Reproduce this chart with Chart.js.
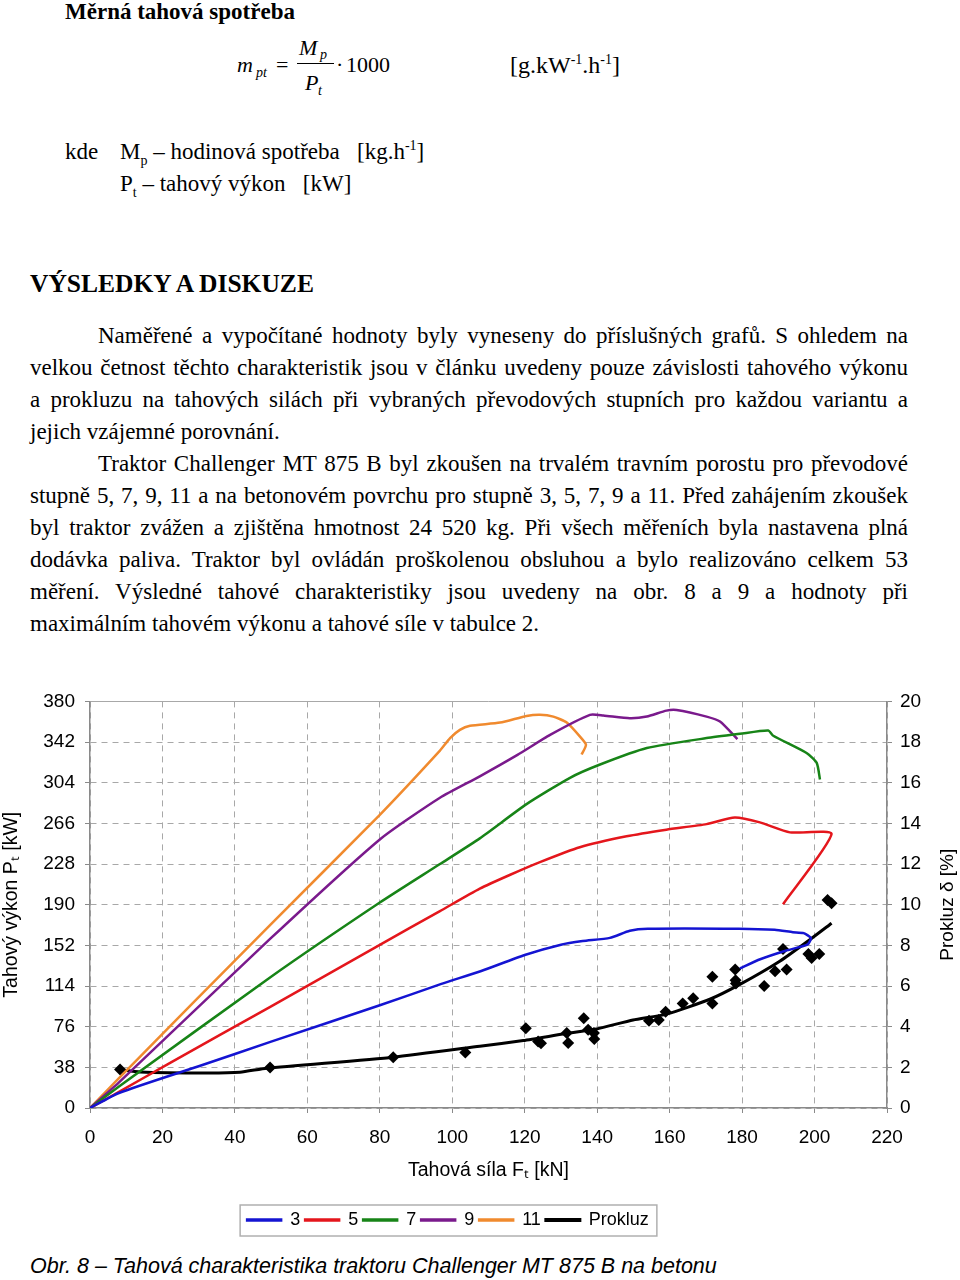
<!DOCTYPE html>
<html lang="cs">
<head>
<meta charset="utf-8">
<title>Tahová charakteristika traktoru Challenger MT 875 B na betonu</title>
<script src="https://cdn.jsdelivr.net/npm/chart.js@4.4.0/dist/chart.umd.min.js"></script>
<style>
  html, body { margin: 0; padding: 0; background: #fff; }
  body { width: 960px; height: 1280px; position: relative; overflow: hidden;
         font-family: "Liberation Serif", "Times New Roman", serif; color: #000; }
  .t { position: absolute; white-space: nowrap; font-size: 23px; line-height: 32px; }
  .f { position: absolute; white-space: nowrap; line-height: 1; }
  .i { font-style: italic; }
  .j { position: absolute; left: 30px; width: 878px; font-size: 23px; line-height: 32px;
       text-align: justify; text-align-last: justify; }
  .ind { left: 98px; width: 810px; }
  .last { text-align-last: left; }
  sub, sup { font-size: 14px; line-height: 0; }
  #chartBox { position: absolute; left: 0; top: 680px; width: 960px; height: 570px; }
  #caption { position: absolute; left: 30px; top: 1253px; font-family: "Liberation Sans", Arial, sans-serif;
             font-style: italic; font-size: 21.5px; line-height: 26px; white-space: nowrap; }
</style>
</head>
<body>

<div class="t" style="left:65px; top:-4px; font-weight:bold;">Měrná tahová spotřeba</div>

<!-- formula -->
<div class="f i" style="left:237px; top:54px; font-size:22px;">m</div>
<div class="f i" style="left:256px; top:66px; font-size:14px;">pt</div>
<div class="f" style="left:276px; top:54px; font-size:22px;">=</div>
<div class="f i" style="left:299px; top:37px; font-size:22px;">M</div>
<div class="f i" style="left:320px; top:48px; font-size:14px;">p</div>
<div style="position:absolute; left:297px; top:63px; width:37px; height:1px; background:#000;"></div>
<div class="f i" style="left:305px; top:72px; font-size:22px;">P</div>
<div class="f i" style="left:318px; top:84px; font-size:14px;">t</div>
<div class="f" style="left:336px; top:54px; font-size:22px;">·</div>
<div class="f" style="left:346px; top:54px; font-size:22px;">1000</div>
<div class="f" style="left:510px; top:53px; font-size:24px;">[g.kW<sup>-1</sup>.h<sup>-1</sup>]</div>

<div class="t" style="left:65px; top:136px;">kde</div>
<div class="t" style="left:120px; top:136px;">M<sub>p</sub> – hodinová spotřeba &nbsp; [kg.h<sup>-1</sup>]</div>
<div class="t" style="left:120px; top:168px;">P<sub>t</sub> – tahový výkon &nbsp; [kW]</div>

<div class="t" style="left:30px; top:268px; font-size:25.5px; font-weight:bold;">VÝSLEDKY A DISKUZE</div>

<div class="j ind" style="top:320px;">Naměřené a vypočítané hodnoty byly vyneseny do příslušných grafů. S ohledem na</div>
<div class="j" style="top:352px;">velkou četnost těchto charakteristik jsou v článku uvedeny pouze závislosti tahového výkonu</div>
<div class="j" style="top:384px;">a prokluzu na tahových silách při vybraných převodových stupních pro každou variantu a</div>
<div class="j last" style="top:416px;">jejich vzájemné porovnání.</div>
<div class="j ind" style="top:448px;">Traktor Challenger MT 875 B byl zkoušen na trvalém travním porostu pro převodové</div>
<div class="j" style="top:480px;">stupně 5, 7, 9, 11 a na betonovém povrchu pro stupně 3, 5, 7, 9 a 11. Před zahájením zkoušek</div>
<div class="j" style="top:512px;">byl traktor zvážen a zjištěna hmotnost 24 520 kg. Při všech měřeních byla nastavena plná</div>
<div class="j" style="top:544px;">dodávka paliva. Traktor byl ovládán proškolenou obsluhou a bylo realizováno celkem 53</div>
<div class="j" style="top:576px;">měření. Výsledné tahové charakteristiky jsou uvedeny na obr. 8 a 9 a hodnoty při</div>
<div class="j last" style="top:608px;">maximálním tahovém výkonu a tahové síle v tabulce 2.</div>

<div id="chartBox"><canvas id="tahChart" width="960" height="570"></canvas></div>

<div id="caption">Obr. 8 – Tahová charakteristika traktoru Challenger MT 875 B na betonu</div>

<script>
// Axis ticks
const forceTicks = [0, 20, 40, 60, 80, 100, 120, 140, 160, 180, 200, 220];
const powerTicks = [0, 38, 76, 114, 152, 190, 228, 266, 304, 342, 380];
const slipTicks = [0, 2, 4, 6, 8, 10, 12, 14, 16, 18, 20];

// Tahový výkon [kW] vs. tahová síla [kN], per gear
const gear3Force = [0, 8, 30, 50, 80, 97, 108, 120, 130, 136, 143.5, 149, 154, 179, 189, 194, 197, 199, 198, 192, 185, 179.4];
const gear3Power = [0, 14, 39, 62, 96, 116, 128, 143, 152.6, 156, 159, 165.6, 167.5, 167.5, 166.5, 164.3, 163.4, 158.8, 152.6, 147, 139, 130.4];

const gear5Force = [0, 8, 22, 50, 80, 96.6, 107.6, 116, 124.2, 135.2, 148.1, 159.1, 170.2, 178, 184.9, 193.2, 204.7, 191.3];
const gear5Power = [0, 15, 42, 95, 152.5, 184, 205, 218, 229.8, 243.7, 253.9, 260.1, 265.3, 271.5, 266.9, 257.6, 256.1, 190.4];

const gear7Force = [0, 8, 49.7, 80, 96.6, 107.6, 120.5, 132.5, 140.8, 153.7, 170.2, 179.4, 187.2, 188.6, 197.8, 200.6, 201.5];
const gear7Power = [0, 20, 122, 192, 228, 252, 284, 308.6, 321, 336.4, 345.7, 349.7, 352.8, 347.9, 331.8, 322.5, 307];

const gear9Force = [0, 8, 49.7, 80, 96.6, 107.6, 118, 127, 138, 141.7, 149, 153.7, 159.1, 161.9, 170.2, 173.9, 178.7];
const gear9Power = [0, 24, 158, 251, 290, 310, 330, 348.7, 367.4, 366.8, 364.2, 365.8, 371.4, 372, 365.8, 361.2, 344.8];

const gear11Force = [0, 8, 49.7, 80, 96.6, 99.4, 102.1, 104.9, 113.2, 120.5, 124.2, 127.9, 131.6, 135.2, 136.9, 135.7];
const gear11Power = [0, 28, 171, 274, 334, 345.7, 353.4, 357.2, 360.2, 366.4, 367.6, 365.8, 360.2, 347.3, 339.5, 330.3];

// Prokluz [%] - trend line and measured points
const slipTrendForce = [8.3, 13.8, 32.2, 41.4, 48.8, 83.7, 107.6, 119.6, 130.6, 139.8, 149.9, 159.1, 171.1, 179.4, 190.4, 198.7, 204.7];
const slipTrend = [1.89, 1.77, 1.72, 1.76, 1.96, 2.5, 3.04, 3.32, 3.64, 3.89, 4.33, 4.62, 5.35, 6.08, 7.22, 8.28, 9.09];

const slipForce = [8.3, 49.7, 83.7, 103.6, 120.3, 123.7, 124.5, 131.6, 132, 136.3, 137.5, 139.1, 139.2, 154.3, 157, 158.9,
  163.6, 166.5, 171.8, 171.8, 178.1, 178.2, 178.3, 186.1, 189.1, 191.3, 192.3, 198.3, 199.2, 201.3, 203.6, 204.7];
const slipMeasured = [1.89, 1.99, 2.5, 2.73, 3.92, 3.27, 3.19, 3.69, 3.2, 4.41, 3.85, 3.69, 3.4, 4.29, 4.33, 4.73,
  5.14, 5.4, 6.46, 5.14, 6.81, 6.28, 6.13, 6.0, 6.73, 7.82, 6.81, 7.58, 7.38, 7.58, 10.23, 10.07];

const gearLabels = ['3', '5', '7', '9', '11'];
const gearColors = ['#1414d2', '#e4161c', '#178417', '#7a1a8c', '#f08a2e'];

function pts(xs, ys) {
    return xs.map((x, i) => ({ x: x, y: ys[i] }));
}

const gearData = [
    pts(gear3Force, gear3Power),
    pts(gear5Force, gear5Power),
    pts(gear7Force, gear7Power),
    pts(gear9Force, gear9Power),
    pts(gear11Force, gear11Power)
];

const datasets = gearLabels.map((lbl, i) => ({
    label: lbl,
    data: gearData[i],
    yAxisID: 'y',
    showLine: true,
    borderColor: gearColors[i],
    backgroundColor: gearColors[i],
    borderWidth: 2.5,
    pointRadius: 0,
    tension: 0.2
}));

datasets.push({
    label: 'Prokluz',
    data: pts(slipTrendForce, slipTrend),
    yAxisID: 'y2',
    showLine: true,
    borderColor: '#000',
    backgroundColor: '#000',
    borderWidth: 3,
    pointRadius: 0,
    tension: 0.2
});

datasets.push({
    label: 'Prokluz body',
    data: pts(slipForce, slipMeasured),
    yAxisID: 'y2',
    showLine: false,
    pointStyle: 'rectRot',
    pointRadius: 6,
    borderWidth: 0,
    backgroundColor: '#000',
    borderColor: '#000'
});

const FONT = '"Liberation Sans", Arial, sans-serif';
const gridColor = '#a8a8a8';
const axisColor = '#8a8a8a';

// legend box border, right-hand axis title, legend nudge
const extras = {
    id: 'extras',
    afterLayout(chart) {
        chart.legend.left -= 32;
        chart.legend.right -= 32;
    },
    afterDraw(chart) {
        const ctx = chart.ctx;
        const boxes = chart.legend.legendHitBoxes;
        if (boxes && boxes.length) {
            const l = Math.min(...boxes.map(b => b.left));
            const r = Math.max(...boxes.map(b => b.left + b.width));
            const t = Math.min(...boxes.map(b => b.top));
            const b = Math.max(...boxes.map(b => b.top + b.height));
            ctx.save();
            ctx.strokeStyle = '#b0b0b0';
            ctx.lineWidth = 1.5;
            ctx.strokeRect(l - 7, t - 6, r - l + 15, b - t + 13);
            ctx.restore();
        }
        const a = chart.chartArea;
        ctx.save();
        ctx.translate(948, (a.top + a.bottom) / 2);
        ctx.rotate(-Math.PI / 2);
        ctx.font = '19px ' + FONT;
        ctx.fillStyle = '#000';
        ctx.textAlign = 'center';
        ctx.textBaseline = 'middle';
        ctx.fillText('Prokluz δ [%]', 0, 0);
        ctx.restore();
    }
};

const ctx = document.getElementById('tahChart').getContext('2d');
const tahChart = new Chart(ctx, {
    type: 'scatter',
    data: { datasets: datasets },
    plugins: [extras],
    options: {
        responsive: false,
        animation: false,
        devicePixelRatio: 1,
        layout: { padding: { top: 18, bottom: 11, left: 0, right: 0 } },
        plugins: {
            tooltip: { enabled: false },
            legend: {
                position: 'bottom',
                labels: {
                    boxWidth: 34,
                    boxHeight: 1,
                    padding: 5,
                    color: '#000',
                    font: { size: 18, family: FONT },
                    filter: item => item.datasetIndex < 6
                }
            }
        },
        scales: {
            x: {
                type: 'linear',
                min: 0, max: 220,
                afterBuildTicks: s => { s.ticks = forceTicks.map(v => ({ value: v })); },
                afterFit: s => { s.height = 98; },
                ticks: { color: '#000', padding: 13, font: { size: 19, family: FONT } },
                grid: { color: gridColor, tickLength: 5, tickColor: axisColor },
                border: { color: axisColor, width: 1.5, dash: [6, 5] },
                title: { display: true, text: 'Tahová síla Fₜ [kN]', color: '#000',
                         font: { size: 19.5, family: FONT }, padding: { top: 0, bottom: 24 } }
            },
            y: {
                type: 'linear',
                position: 'left',
                min: 0, max: 380,
                afterBuildTicks: s => { s.ticks = powerTicks.map(v => ({ value: v })); },
                afterFit: s => { s.width = 90; },
                ticks: { color: '#000', padding: 10, font: { size: 19, family: FONT } },
                grid: { color: gridColor, tickLength: 5, tickColor: axisColor },
                border: { color: axisColor, width: 1.5,
                          dash: c => (c.tick && c.tick.value === 380) ? [] : [6, 5] },
                title: { display: true, text: 'Tahový výkon Pₜ [kW]', color: '#000',
                         font: { size: 19.5, family: FONT }, padding: { top: 0, bottom: 0 } }
            },
            y2: {
                type: 'linear',
                position: 'right',
                min: 0, max: 20,
                afterBuildTicks: s => { s.ticks = slipTicks.map(v => ({ value: v })); },
                afterFit: s => { s.width = 73; },
                ticks: { color: '#000', padding: 8, font: { size: 19, family: FONT } },
                grid: { drawOnChartArea: false, tickLength: 5, tickColor: axisColor },
                border: { color: axisColor, width: 1.5 }
            }
        }
    }
});
</script>
</body>
</html>
